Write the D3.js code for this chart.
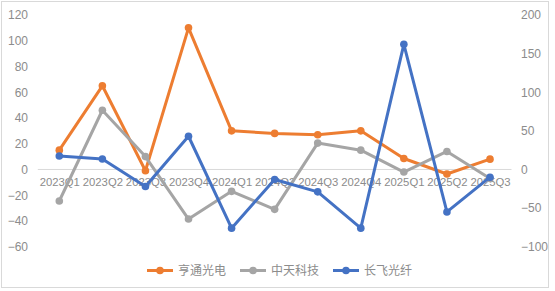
<!DOCTYPE html>
<html>
<head>
<meta charset="utf-8">
<script src="https://cdn.jsdelivr.net/npm/d3@7"></script>
<style>
  html, body { margin: 0; padding: 0; background: #fff; }
  svg { display: block; }
</style>
</head>
<body>
<div id="chart"></div>
<script>
const categories = ["2023Q1","2023Q2","2023Q3","2023Q4","2024Q1","2024Q2","2024Q3","2024Q4","2025Q1","2025Q2","2025Q3"];
const hengtong = [15, 65, -1, 110, 30, 28, 27, 30, 8.5, -3.5, 8];
const zhongtian = [-24.5, 46, 10, -38.5, -17, -31, 20.5, 15, -2, 14, -7];
const changfei = [17.5, 13.5, -22, 43, -76, -13, -29, -76, 162, -55, -10];
const leftTicks = [120, 100, 80, 60, 40, 20, 0, -20, -40, -60];
const rightTicks = [200, 150, 100, 50, 0, -50, -100];
const seriesNames = ["亨通光电", "中天科技", "长飞光纤"];
const seriesColors = ["#ED7D31", "#A5A5A5", "#4472C4"];

const W = 555, H = 291;
const svg = d3.select("#chart").append("svg").attr("width", W).attr("height", H);
const font = "'Liberation Sans', Arial, sans-serif";

// border
svg.append("rect").attr("x", 1.5).attr("y", 1.5).attr("width", 547).attr("height", 286)
  .attr("fill", "#fff").attr("stroke", "#d9d9d9").attr("stroke-width", 1);

const plotTop = 15, plotBottom = 246.7;
const x = d3.scalePoint().domain(categories).range([59.3, 490]);
const yL = d3.scaleLinear().domain([-60, 120]).range([plotBottom, plotTop]);
const yR = d3.scaleLinear().domain([-100, 200]).range([plotBottom, plotTop]);

// zero line
svg.append("line").attr("x1", 37.8).attr("x2", 511.5)
  .attr("y1", yL(0)).attr("y2", yL(0)).attr("stroke", "#d9d9d9").attr("stroke-width", 1);

// left axis
const gL = svg.append("g").attr("transform", "translate(28,0)")
  .call(d3.axisLeft(yL).tickValues(leftTicks).tickSize(0).tickPadding(0));
gL.select(".domain").remove();
gL.selectAll("text").attr("font-family", font).attr("font-size", 12).attr("fill", "#8c8c8c");

// right axis
const gR = svg.append("g").attr("transform", "translate(521,0)")
  .call(d3.axisRight(yR).tickValues(rightTicks).tickSize(0).tickPadding(0));
gR.select(".domain").remove();
gR.selectAll("text").attr("font-family", font).attr("font-size", 12).attr("fill", "#8c8c8c");

// x axis labels
const gX = svg.append("g").attr("transform", `translate(0,${yL(0) + 5})`)
  .call(d3.axisBottom(x).tickSize(0).tickPadding(0));
gX.select(".domain").remove();
gX.selectAll("text").attr("font-family", font).attr("font-size", 11.3).attr("fill", "#8c8c8c")
  .attr("dy", "0.71em").attr("y", 3.5);

const series = [
  { vals: hengtong, scale: yL },
  { vals: zhongtian, scale: yL },
  { vals: changfei, scale: yR }
];

series.forEach((s, i) => {
  const line = d3.line().x((d, j) => x(categories[j])).y(d => s.scale(d));
  svg.append("path").datum(s.vals).attr("d", line)
    .attr("fill", "none").attr("stroke", seriesColors[i]).attr("stroke-width", 3)
    .attr("stroke-linejoin", "round");
  svg.selectAll(null).data(s.vals).enter().append("circle")
    .attr("cx", (d, j) => x(categories[j])).attr("cy", d => s.scale(d))
    .attr("r", 3.8).attr("fill", seriesColors[i]);
});

// legend
const legendX = [147, 240, 333];
const legY = 270.5;
seriesNames.forEach((n, i) => {
  const g = svg.append("g").attr("transform", `translate(${legendX[i]},${legY})`);
  g.append("line").attr("x1", 0).attr("x2", 26).attr("y1", 0).attr("y2", 0)
    .attr("stroke", seriesColors[i]).attr("stroke-width", 3);
  g.append("circle").attr("cx", 13).attr("cy", 0).attr("r", 3.8).attr("fill", seriesColors[i]);
  g.append("text").attr("x", 31).attr("y", 0).attr("dy", "0.35em")
    .attr("font-family", "'Noto Sans CJK SC', sans-serif").attr("font-size", 12)
    .attr("fill", "#8c8c8c").text(n);
});
</script>
</body>
</html>
